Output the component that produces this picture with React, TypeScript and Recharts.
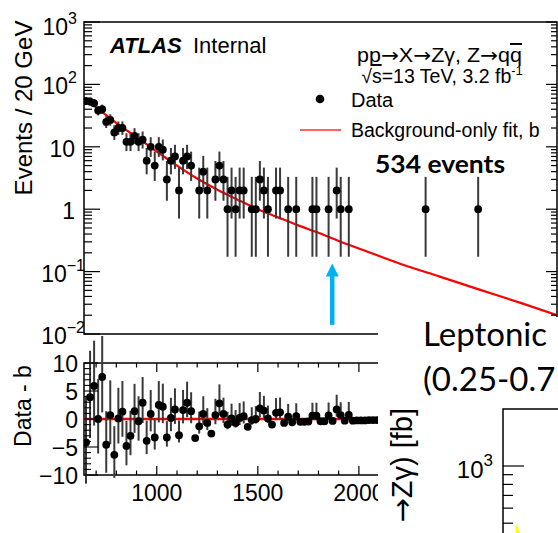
import React from 'react';
import {
  ComposedChart, Scatter, Line, Area, XAxis, YAxis, ErrorBar,
  ReferenceArea, ReferenceLine,
} from 'recharts';

const ROOT_FONT = '"Liberation Sans", Arial, Helvetica, sans-serif';
const ARROW_FONT = '"DejaVu Sans", sans-serif';
const SLIDE_FONT = 'Lato, "Open Sans", sans-serif';

// ---------- top panel: data (bin centres, GeV) and counts ----------
const dataMass = [650, 670, 690, 710, 730, 750, 770, 790, 810, 830, 850, 870, 890, 910, 930, 950, 970, 990, 1010, 1030,
  1050, 1070, 1090, 1110, 1130, 1150, 1170, 1210, 1230, 1250, 1290, 1310, 1330, 1350, 1370, 1390, 1410, 1430, 1470, 1490,
  1510, 1530, 1550, 1590, 1610, 1650, 1690, 1770, 1790, 1850, 1890, 1910, 1950, 2330, 2590];
const dataCounts = [54, 53, 50, 38, 40, 25, 27, 17, 20, 20, 12, 12, 15, 12, 13, 6, 10, 5, 10, 9,
  3, 6, 7, 2, 6, 7, 5, 2, 4, 2, 3, 5, 3, 1, 2, 1, 2, 2, 1, 1,
  3, 2, 1, 2, 2, 1, 1, 1, 1, 1, 2, 1, 1, 1, 1];

// background-only fit
const fitMass = [640, 700, 800, 900, 1000, 1100, 1200, 1300, 1400, 1500, 1600, 1700, 1800, 1900, 2000, 2200, 2400, 2600, 2800, 2980];
const fitValues = [60, 43, 24, 14.3, 8.4, 5.0, 3.1, 2.05, 1.42, 1.0, 0.74, 0.55, 0.42, 0.31, 0.235, 0.135, 0.083, 0.051, 0.0315, 0.02];

// ---------- bottom panel: Data - b ----------
const residMass = [650, 670, 690, 710, 730, 750, 770, 790, 810, 830, 850, 870, 890, 910, 930, 950, 970, 990, 1010, 1030,
  1050, 1070, 1090, 1110, 1130, 1150, 1170, 1190, 1210, 1230, 1250, 1270, 1290, 1310, 1330, 1350, 1370, 1390, 1410, 1430,
  1450, 1470, 1490, 1510, 1530, 1550, 1570, 1590, 1610, 1630, 1650, 1670, 1690, 1710, 1730, 1750, 1770, 1790, 1810, 1830,
  1850, 1870, 1890, 1910, 1930, 1950, 1970, 1990, 2010, 2030, 2050, 2070, 2090];
const residValues = [-4.2, 3.9, 5.9, 0.0, 7.5, -4.6, 0.7, -6.4, 0.1, 1.3, -4.8, -3.0, 1.4, -0.4, 2.9, -3.9, 0.9, -3.3, 2.5, 2.2,
  -3.3, 0.2, 1.7, -2.9, 1.6, 2.9, 1.4, -3.4, -1.3, 0.9, -0.7, -2.6, 0.7, 2.8, 0.9, -1.0, 0.1, -0.7, 0.2, 0.5,
  -1.4, -0.2, 0.0, 1.9, 1.5, 0.1, -1.0, 1.1, 1.2, -0.7, 0.4, -0.6, 0.5, -0.5, -0.5, -0.45, 0.6, 0.6, -0.4, -0.4,
  0.65, -0.35, 1.7, 0.7, -0.3, 0.75, -0.3, -0.25, -0.25, -0.25, -0.2, -0.2, -0.2];

// Poisson (Garwood 68%) interval bounds for small counts
const poisLow = [0, 0.173, 0.708, 1.367, 2.086, 2.840, 3.620, 4.419, 5.232, 6.057, 6.891];
const poisHigh = [1.841, 3.300, 4.638, 5.918, 7.163, 8.382, 9.584, 10.77, 11.95, 13.11, 14.27];

// axes
const xDomain = [640, 2980];
const xTicks = [700, 800, 900, 1000, 1100, 1200, 1300, 1400, 1500, 1600, 1700, 1800, 1900, 2000, 2100, 2200, 2300, 2400, 2500, 2600, 2700, 2800, 2900];
const xMajor = [1000, 1500, 2000, 2500];
const xLabels = ['1000', '1500', '2000', '2500'];

const yDecades = [0.01, 0.1, 1, 10, 100, 1000];
const yDecadeBase = ['10', '10', '1', '10', '10', '10'];
const yDecadeExp = ['\u22122', '\u22121', '', '', '2', '3'];

const residTicks = [-10, -9, -8, -7, -6, -5, -4, -3, -2, -1, 0, 1, 2, 3, 4, 5, 6, 7, 8, 9, 10];
const residMajor = [-10, -5, 0, 5, 10];
const residLabels = ['\u221210', '\u22125', '0', '5', '10'];

// arrow annotation (GeV, events)
const arrowMass = 1868;
const arrowFrom = 0.014;
const arrowTo = 0.135;

// overlapping slide fragment (second plot)
const fragXDomain = [200, 2000];
const fragYDomain = [63.1, 1995];
const fragXTicks = [300, 400, 500, 600, 700, 800, 900, 1000];
const fragYTicks = [100, 200, 300, 400, 500, 600, 700, 800, 900, 1000];
const fragMass = [250, 270, 300];
const fragBandLow = [200, 180, 150];
const fragBandHigh = [500, 440, 350];

// layout
const W = 558;
const H = 533;
const P_LEFT = 84;
const P_RIGHT = 557;
const TOP_T = 22;
const TOP_B = 334;
const BOT_T = 363;
const BOT_B = 475;
const FRAG_L = 503;
const FRAG_T = 409;

function poissonErr(n: number): [number, number] {
  if (n <= 0) return [0, 0];
  if (n <= 10) return [n - poisLow[n], poisHigh[n] - n];
  const s = Math.sqrt(n);
  return [s, s + 1];
}

const topData = dataMass.map((m, i) => ({ x: m, y: dataCounts[i], err: poissonErr(dataCounts[i]) }));
const fitData = fitMass.map((m, i) => ({ x: m, y: fitValues[i] }));
const countMap = new Map<number, number>(dataMass.map((m, i) => [m, dataCounts[i]] as [number, number]));
const residData = residMass.map((m, i) => ({ x: m, y: residValues[i], err: poissonErr(countMap.get(m) ?? 0) }));
const fragData = fragMass.map((m, i) => ({ x: m, band: [fragBandLow[i], fragBandHigh[i]] }));

const topYTicks: number[] = [];
yDecades.slice(0, -1).forEach((d) => {
  for (let k = 1; k <= 9; k++) topYTicks.push(+(d * k).toPrecision(6));
});
topYTicks.push(1000);

const TXT = { fontFamily: ROOT_FONT, fill: '#000' } as const;

const TopXTick = (props: any) => {
  const { x, y, payload } = props;
  const major = xMajor.includes(payload.value);
  const len = major ? 9 : 4.5;
  return (
    <g>
      <line x1={x} x2={x} y1={y} y2={y - len} stroke="#000" strokeWidth={1.2} />
      <line x1={x} x2={x} y1={TOP_T} y2={TOP_T + len} stroke="#000" strokeWidth={1.2} />
    </g>
  );
};

const TopYTick = (props: any) => {
  const { x, y, payload } = props;
  const v = payload.value;
  const idx = yDecades.indexOf(v);
  const major = idx >= 0;
  const len = major ? 16 : 8;
  const rlen = major ? 11 : 6;
  let label = null;
  if (major) {
    const exp = yDecadeExp[idx];
    const endX = exp.startsWith('\u2212') ? 85 : exp ? 77 : 75;
    const dy = v === 1000 ? 5 : 2;
    label = (
      <text x={endX} y={y + dy} textAnchor="end" dominantBaseline="central" fontSize={23} {...TXT}>
        {yDecadeBase[idx]}
        {exp ? <tspan dy={-9} fontSize={16}>{exp}</tspan> : null}
      </text>
    );
  }
  return (
    <g>
      <line x1={x} x2={x + len} y1={y} y2={y} stroke="#000" strokeWidth={1.2} />
      <line x1={P_RIGHT - rlen} x2={P_RIGHT} y1={y} y2={y} stroke="#000" strokeWidth={1.2} />
      {label}
    </g>
  );
};

const BotXTick = (props: any) => {
  const { x, y, payload } = props;
  const idx = xMajor.indexOf(payload.value);
  const major = idx >= 0;
  const len = major ? 9 : 4.5;
  return (
    <g>
      <line x1={x} x2={x} y1={y} y2={y - len} stroke="#000" strokeWidth={1.2} />
      <line x1={x} x2={x} y1={BOT_T} y2={BOT_T + len} stroke="#000" strokeWidth={1.2} />
      {major ? (
        <text x={x} y={y + 18} textAnchor="middle" dominantBaseline="central" fontSize={23} {...TXT}>
          {xLabels[idx]}
        </text>
      ) : null}
    </g>
  );
};

const BotYTick = (props: any) => {
  const { x, y, payload } = props;
  const idx = residMajor.indexOf(payload.value);
  const major = idx >= 0;
  const len = major ? 14 : 7;
  const rlen = major ? 9 : 5;
  return (
    <g>
      <line x1={x} x2={x + len} y1={y} y2={y} stroke="#000" strokeWidth={1.1} />
      <line x1={P_RIGHT - rlen} x2={P_RIGHT} y1={y} y2={y} stroke="#000" strokeWidth={1.1} />
      {major ? (
        <text x={78} y={y + 1} textAnchor="end" dominantBaseline="central" fontSize={23} {...TXT}>
          {residLabels[idx]}
        </text>
      ) : null}
    </g>
  );
};

const FragXTick = (props: any) => {
  const { x, y } = props;
  return <line x1={x} x2={x} y1={y} y2={y + 7} stroke="#000" strokeWidth={1.2} />;
};

const FragYTick = (props: any) => {
  const { x, y, payload } = props;
  const major = payload.value === 1000 || payload.value === 100;
  const len = major ? 21 : 10;
  return (
    <g>
      <line x1={x} x2={x + len} y1={y} y2={y} stroke="#000" strokeWidth={1.2} />
      {payload.value === 1000 ? (
        <text x={493} y={y + 4} textAnchor="end" dominantBaseline="central" fontSize={24} {...TXT}>
          10<tspan dy={-10} fontSize={17}>3</tspan>
        </text>
      ) : null}
    </g>
  );
};

const Dot = (p: any) => <circle cx={p.cx} cy={p.cy} r={3.9} fill="#000" />;

const ArrowShape = (p: any) => {
  const { x1, y1, x2, y2 } = p;
  return (
    <g>
      <line x1={x1} y1={y1} x2={x2} y2={y2 + 11} stroke="#00b0f0" strokeWidth={4.5} />
      <polygon points={`${x2},${y2} ${x2 - 6.5},${y2 + 13} ${x2 + 6.5},${y2 + 13}`} fill="#00b0f0" />
    </g>
  );
};

const layer: React.CSSProperties = { position: 'absolute', left: 0, top: 0 };

export default function App() {
  return (
    <div style={{ position: 'absolute', left: 0, top: 0, width: W, height: H, overflow: 'hidden', background: '#fff' }}>
      {/* top panel */}
      <div style={layer}>
        <ComposedChart width={W} height={362} margin={{ top: TOP_T, right: W - P_RIGHT, bottom: 362 - TOP_B, left: 0 }}>
          <XAxis type="number" dataKey="x" domain={xDomain} allowDataOverflow ticks={xTicks} interval={0}
            height={0} tickSize={0} tickMargin={0} tickLine={false} axisLine={false} tick={<TopXTick />} />
          <YAxis type="number" dataKey="y" scale="log" domain={[0.01, 1000]} allowDataOverflow ticks={topYTicks}
            interval={0} width={P_LEFT} tickSize={0} tickMargin={0} tickLine={false} axisLine={false} tick={<TopYTick />} />
          <ReferenceArea x1={xDomain[0]} x2={xDomain[1]} y1={0.01} y2={1000} fill="none" stroke="#000" strokeWidth={1.5} ifOverflow="visible" />
          <Line data={fitData} dataKey="y" type="monotone" stroke="#ff0000" strokeWidth={2.2} dot={false} isAnimationActive={false} />
          <Scatter data={topData} dataKey="y" fill="#000" shape={<Dot />} isAnimationActive={false}>
            <ErrorBar dataKey="err" direction="y" width={0} stroke="#3a3a3a" strokeWidth={2} />
          </Scatter>
          <ReferenceLine segment={[{ x: arrowMass, y: arrowFrom }, { x: arrowMass, y: arrowTo }]} ifOverflow="visible" shape={ArrowShape} />
        </ComposedChart>
      </div>

      {/* bottom panel */}
      <div style={layer}>
        <ComposedChart width={W} height={H} margin={{ top: BOT_T, right: W - P_RIGHT, bottom: 0, left: 0 }}>
          <XAxis type="number" dataKey="x" domain={xDomain} allowDataOverflow ticks={xTicks} interval={0}
            height={H - BOT_B} tickSize={0} tickMargin={0} tickLine={false} axisLine={false} tick={<BotXTick />} />
          <YAxis type="number" dataKey="y" domain={[-10, 10]} allowDataOverflow ticks={residTicks} interval={0}
            width={P_LEFT} tickSize={0} tickMargin={0} tickLine={false} axisLine={false} tick={<BotYTick />} />
          <ReferenceArea x1={xDomain[0]} x2={xDomain[1]} y1={-10} y2={10} fill="none" stroke="#000" strokeWidth={1.5} ifOverflow="visible" />
          <ReferenceLine y={0} stroke="#ff0000" strokeWidth={2.5} />
          <Scatter data={residData} dataKey="y" fill="#000" shape={<Dot />} isAnimationActive={false}>
            <ErrorBar dataKey="err" direction="y" width={0} stroke="#3a3a3a" strokeWidth={2} />
          </Scatter>
        </ComposedChart>
      </div>

      {/* overlapping slide area */}
      <div style={{ position: 'absolute', left: 378, top: 317, width: W - 378, height: H - 317, background: '#fff' }} />

      {/* fragment of the second plot */}
      <div style={{ ...layer, width: W, height: H, overflow: 'hidden' }}>
        <ComposedChart width={1000} height={800} margin={{ top: FRAG_T, right: 1000 - FRAG_L - 450, bottom: 800 - FRAG_T - 285, left: 0 }}>
          <XAxis type="number" dataKey="x" orientation="top" domain={fragXDomain} allowDataOverflow ticks={fragXTicks}
            interval={0} height={0} tickSize={0} tickMargin={0} tickLine={false} axisLine={false} tick={<FragXTick />} />
          <YAxis type="number" scale="log" domain={fragYDomain} allowDataOverflow ticks={fragYTicks} interval={0}
            width={FRAG_L} tickSize={0} tickMargin={0} tickLine={false} axisLine={false} tick={<FragYTick />} />
          <Area data={fragData} dataKey="band" type="linear" fill="#ffff00" fillOpacity={1} stroke="none" isAnimationActive={false} />
          <ReferenceArea x1={fragXDomain[0]} x2={fragXDomain[1]} y1={fragYDomain[0]} y2={fragYDomain[1]} fill="none" stroke="#000" strokeWidth={1.5} ifOverflow="visible" />
        </ComposedChart>
      </div>

      {/* texts */}
      <svg width={W} height={H} style={{ ...layer, pointerEvents: 'none' }}>
        <text x={23} y={108} transform="rotate(-90 23 108)" textAnchor="middle" dominantBaseline="central" fontSize={24} {...TXT}>
          Events / 20 GeV
        </text>
        <text x={23} y={406} transform="rotate(-90 23 406)" textAnchor="middle" dominantBaseline="central" fontSize={23} {...TXT}>
          Data - b
        </text>
        <text x={110} y={53} fontSize={22} fontWeight="bold" fontStyle="italic" {...TXT}>ATLAS</text>
        <text x={193} y={53} fontSize={22} {...TXT}>Internal</text>

        <text x={357} y={62} fontSize={19.5} {...TXT} textLength={165} lengthAdjust="spacingAndGlyphs">
          pp<tspan fontFamily={ARROW_FONT}>→</tspan>X<tspan fontFamily={ARROW_FONT}>→</tspan>Zγ, Z<tspan fontFamily={ARROW_FONT}>→</tspan>q<tspan style={{ textDecoration: 'overline' }}>q</tspan>
        </text>
        <text x={442} y={83} textAnchor="middle" fontSize={19.5} {...TXT}>
          √<tspan style={{ textDecoration: 'overline' }}>s</tspan>=13 TeV, 3.2 fb<tspan dy={-8} fontSize={13}>-1</tspan>
        </text>
        <circle cx={320} cy={99} r={4.3} fill="#000" />
        <text x={351} y={107} fontSize={20} {...TXT}>Data</text>
        <line x1={300} x2={341} y1={130} y2={130} stroke="#ff3030" strokeWidth={1.6} />
        <text x={351} y={137} fontSize={19.5} {...TXT}>Background-only fit, b</text>

        <text x={375} y={173} fontFamily={SLIDE_FONT} fontWeight="bold" fontSize={25} fill="#000" textLength={130} lengthAdjust="spacingAndGlyphs">
          534 events
        </text>
        <text x={423} y={346} fontFamily={SLIDE_FONT} fontSize={33} fill="#000">Leptonic</text>
        <text x={423} y={391} fontFamily={SLIDE_FONT} fontSize={33} fill="#000">(0.25-0.7</text>

        <text x={402} y={408} transform="rotate(-90 402 408)" textAnchor="end" dominantBaseline="central" fontSize={29} {...TXT}>
          <tspan fontFamily={ARROW_FONT}>→</tspan>Zγ) [fb]
        </text>
      </svg>
    </div>
  );
}
